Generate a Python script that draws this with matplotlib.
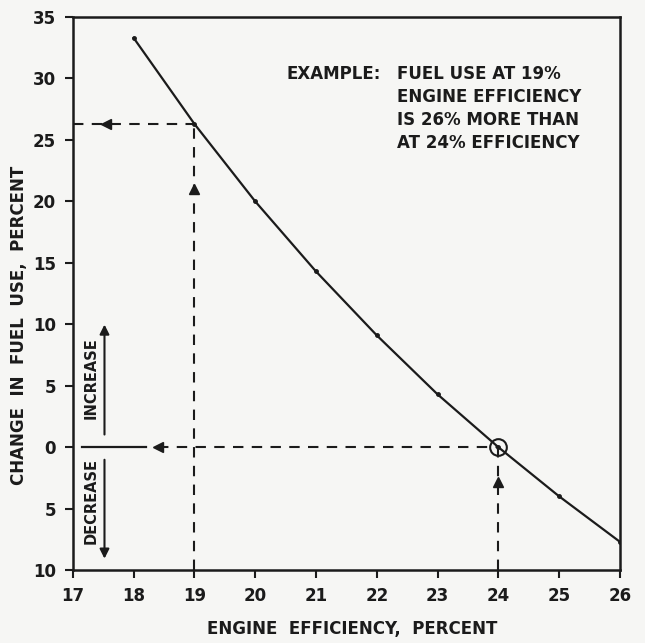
import numpy as np
import matplotlib.pyplot as plt

# данные
efficiency = [18, 19, 20, 21, 22, 23, 24, 25, 26]
fuel_change = [33.3, 26.3, 20.0, 14.3, 9.1, 4.3, 0.0, -4.0, -7.7]

x_ticks = [17, 18, 19, 20, 21, 22, 23, 24, 25, 26]
y_ticks = [35, 30, 25, 20, 15, 10, 5, 0, -5, -10]

ex_eff = 19
ex_change = 26.3
base_eff = 24
base_change = 0.0

ink = '#1b1b1b'
paper = '#f6f6f4'

plt.rcParams['font.family'] = 'DejaVu Sans'
plt.rcParams['font.weight'] = 'bold'

fig = plt.figure(figsize=(6.45, 6.43), dpi=100, facecolor=paper)
ax = fig.add_axes([0.113, 0.1135, 0.848, 0.86])
ax.set_facecolor(paper)

# кривая
ax.plot(efficiency, fuel_change, color=ink, lw=1.6, marker='o', markersize=2.5)

# пример: 19% -> 26%
ax.plot([ex_eff, ex_eff], [-10, ex_change], color=ink, lw=1.5, ls=(0, (5, 4)))
ax.plot([17, ex_eff], [ex_change, ex_change], color=ink, lw=1.5, ls=(0, (5, 4)))
ax.plot(17.55, ex_change, marker='<', color=ink, markersize=7)
ax.plot(ex_eff, 21.0, marker='^', color=ink, markersize=7)

# базовая точка 24%
ax.plot([18.4, base_eff], [base_change, base_change], color=ink, lw=1.5, ls=(0, (5, 4)))
ax.plot([base_eff, base_eff], [-10, base_change], color=ink, lw=1.5, ls=(0, (5, 4)))
ax.plot(18.4, base_change, marker='<', color=ink, markersize=7)
ax.plot(base_eff, -2.8, marker='^', color=ink, markersize=7)
ax.plot(base_eff, base_change, marker='o', markersize=12, markerfacecolor='none',
        markeredgecolor=ink, markeredgewidth=1.5)

# нулевая линия слева
ax.plot([17.15, 18.2], [0, 0], color=ink, lw=1.6)

# increase / decrease
ax.annotate('', xy=(17.52, 10.2), xytext=(17.52, 0.8),
            arrowprops=dict(arrowstyle='-|>', color=ink, lw=1.5, mutation_scale=14))
ax.annotate('', xy=(17.52, -9.3), xytext=(17.52, -0.8),
            arrowprops=dict(arrowstyle='-|>', color=ink, lw=1.5, mutation_scale=14))
ax.text(17.3, 5.6, 'INCREASE', rotation=90, ha='center', va='center',
        fontsize=10.5, color=ink)
ax.text(17.3, -4.4, 'DECREASE', rotation=90, ha='center', va='center',
        fontsize=10.5, color=ink)

# подпись примера
ax.text(20.52, 30.4, 'EXAMPLE:', ha='left', va='center', fontsize=12, color=ink)
lines = ['FUEL USE AT 19%', 'ENGINE EFFICIENCY', 'IS 26% MORE THAN', 'AT 24% EFFICIENCY']
for i, s in enumerate(lines):
    ax.text(22.33, 30.4 - i * 1.87, s, ha='left', va='center', fontsize=12, color=ink)

ax.set_xlim(17, 26)
ax.set_ylim(-10, 35)
ax.set_xticks(x_ticks)
ax.set_yticks(y_ticks)
ax.set_yticklabels([str(abs(v)) for v in y_ticks])
ax.tick_params(direction='out', length=6, width=1.5, colors=ink, labelsize=12, pad=6)
for sp in ax.spines.values():
    sp.set_linewidth(1.8)
    sp.set_color(ink)

ax.set_xlabel('ENGINE  EFFICIENCY,  PERCENT', fontsize=12, fontweight='bold', color=ink)
ax.set_ylabel('CHANGE  IN  FUEL  USE,  PERCENT', fontsize=12, fontweight='bold', color=ink)
ax.xaxis.set_label_coords(0.51, -0.09)
ax.yaxis.set_label_coords(-0.082, 0.443)

fig.savefig('out.png', dpi=100, facecolor=paper)
